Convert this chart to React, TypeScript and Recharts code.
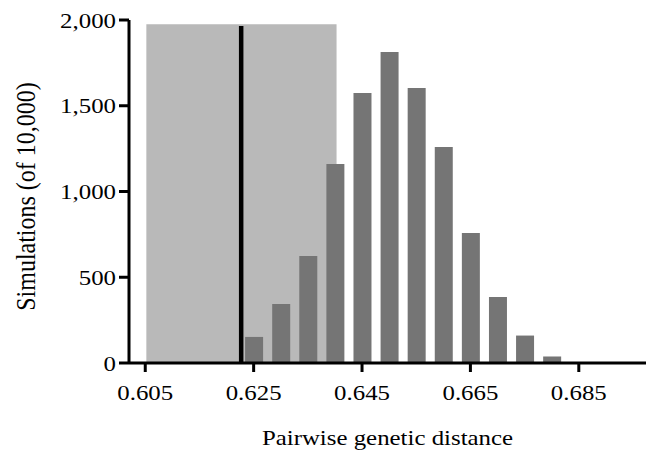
import React from "react";
import {
  ComposedChart,
  Bar,
  XAxis,
  YAxis,
  ReferenceArea,
  ReferenceLine,
} from "recharts";

// histogram bins (bin centre) and counts out of 10,000 simulations
const binCentres = [0.625, 0.63, 0.635, 0.64, 0.645, 0.65, 0.655, 0.66, 0.665, 0.67, 0.675, 0.68];
const simCounts = [152, 344, 624, 1160, 1574, 1813, 1603, 1259, 758, 385, 160, 38];

const xTicks = [0.605, 0.625, 0.645, 0.665, 0.685];
const yTicks = [0, 500, 1000, 1500, 2000];

// shaded interval and observed value
const shadeFrom = 0.6052;
const shadeTo = 0.6403;
const shadeTop = 1975;
const observed = 0.6227;
const observedTop = 1965;

const data = binCentres.map((x, i) => ({ x, count: simCounts[i] }));

const FONT = "'Times New Roman', 'Liberation Serif', serif";
const STRETCH = 1.13;

const XTick = (props: any) => (
  <g transform={`translate(${props.x},${props.y})`}>
    <text
      transform={`scale(${STRETCH},1)`}
      textAnchor="middle"
      dy={15}
      fontFamily={FONT}
      fontSize={22}
      fill="#000"
    >
      {Number(props.payload.value).toFixed(3)}
    </text>
  </g>
);

const YTick = (props: any) => (
  <g transform={`translate(${props.x},${props.y})`}>
    <text
      transform={`scale(${STRETCH},1)`}
      textAnchor="end"
      dy={7.5}
      fontFamily={FONT}
      fontSize={22}
      fill="#000"
    >
      {Number(props.payload.value).toLocaleString("en-US")}
    </text>
  </g>
);

export default function App() {
  return (
    <div style={{ position: "absolute", left: 0, top: 0, background: "#fff" }}>
      <ComposedChart
        width={646}
        height={452}
        data={data}
        margin={{ top: 20, right: 0, bottom: 0, left: 0 }}
      >
        <XAxis
          dataKey="x"
          type="number"
          domain={[0.602, 0.6974]}
          ticks={xTicks}
          allowDataOverflow
          height={89}
          tickSize={9}
          tickMargin={13}
          axisLine={{ stroke: "#000", strokeWidth: 3 }}
          tickLine={{ stroke: "#000", strokeWidth: 3 }}
          tick={<XTick />}
          label={{
            content: ({ viewBox }: any) => (
              <g transform={`translate(${viewBox.x + viewBox.width / 2},${viewBox.y + 82})`}>
                <text
                  transform={`scale(${STRETCH},1)`}
                  textAnchor="middle"
                  fontFamily={FONT}
                  fontSize={22}
                  fill="#000"
                >
                  Pairwise genetic distance
                </text>
              </g>
            ),
          }}
        />
        <YAxis
          type="number"
          domain={[0, 2000]}
          ticks={yTicks}
          width={129}
          tickSize={10}
          tickMargin={3}
          axisLine={{ stroke: "#000", strokeWidth: 3 }}
          tickLine={{ stroke: "#000", strokeWidth: 3 }}
          tick={<YTick />}
          label={{
            content: ({ viewBox }: any) => (
              <g transform={`translate(${26},${viewBox.y + viewBox.height / 2 + 5})`}>
                <text
                  transform={`scale(${STRETCH},1) rotate(-90)`}
                  textAnchor="middle"
                  dominantBaseline="central"
                  fontFamily={FONT}
                  fontSize={24}
                  fill="#000"
                >
                  Simulations (of 10,000)
                </text>
              </g>
            ),
          }}
        />
        <ReferenceArea
          x1={shadeFrom}
          x2={shadeTo}
          y1={0}
          y2={shadeTop}
          fill="#b9b9b9"
          fillOpacity={1}
          stroke="none"
        />
        <ReferenceLine
          segment={[
            { x: observed, y: 0 },
            { x: observed, y: observedTop },
          ]}
          stroke="#000"
          strokeWidth={4.5}
        />
        <Bar dataKey="count" fill="#757575" barSize={18} isAnimationActive={false} />
      </ComposedChart>
    </div>
  );
}
